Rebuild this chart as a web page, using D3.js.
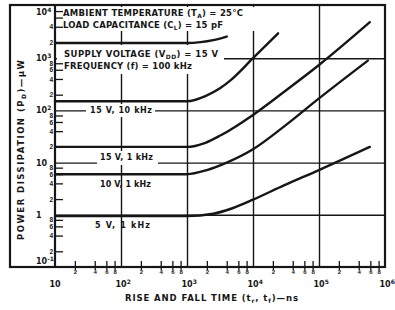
<!DOCTYPE html>
<html>
<head>
<meta charset="utf-8">
<style>
  body { margin: 0; background: #fff; }
  svg { display: block; font-family: 'DejaVu Sans', sans-serif; font-weight: bold; }
  .domain { display: none; }
  text { fill: #161616; }
</style>
</head>
<body>
<svg width="395" height="310"></svg>
<script src="https://d3js.org/d3.v7.min.js"></script>
<script>
// values (t in ns, P in microwatts)
let xDecades = [10, 1e2, 1e3, 1e4, 1e5, 1e6];
let xDecadeLabels = [["10", ""], ["10", "2"], ["10", "3"], ["10", "4"], ["10", "5"], ["10", "6"]];
let yDecades = [0.1, 1, 10, 1e2, 1e3, 1e4];
let yDecadeLabels = [["10", "-1"], ["1", ""], ["10", ""], ["10", "2"], ["10", "3"], ["10", "4"]];
let minorDigits = [2, 4, 6, 8];

let curve15v100k = [[10, 1950], [1000, 1950], [1600, 2030], [2500, 2220], [4000, 2600]];
let curve15v10k = [[10, 150], [1000, 150], [1900, 188], [3200, 268], [4600, 380], [10000, 1000], [24000, 3000]];
let curve15v1k = [[10, 20], [1000, 20], [1900, 24], [3200, 33], [10000, 82], [30000, 230], [100000, 740], [590000, 4900]];
let curve10v1k = [[10, 6], [1000, 6], [2000, 7.2], [4000, 10], [10000, 18], [30000, 50], [100000, 170], [550000, 900]];
let curve5v1k = [[10, 0.95], [1000, 0.95], [2500, 1.05], [5000, 1.35], [10000, 1.95], [30000, 3.7], [100000, 7.2], [590000, 20]];

let curves = [curve15v100k, curve15v10k, curve15v1k, curve10v1k, curve5v1k];
let curveLabels = ["15 V, 10 kHz", "15 V, 1 kHz", "10 V, 1 kHz", "5 V, 1 kHz"];

let W = 395, H = 310;
let margin = { top: 6, right: 10, bottom: 43, left: 55 };
let ink = "#161616";

let svg = d3.select("svg");

let x = d3.scaleLog().domain([10, 1e6]).range([margin.left, W - margin.right]);
let y = d3.scaleLog().domain([0.1, 1e4]).range([H - margin.bottom, margin.top]);
let y0 = H - margin.bottom;

// minor tick positions from the digits
let xMinor = [];
xDecades.slice(0, -1).forEach(d => minorDigits.forEach(m => xMinor.push(d * m)));
let yMinor = [];
yDecades.slice(0, -1).forEach(d => minorDigits.forEach(m => yMinor.push(d * m)));
let digitOf = v => String(Math.round(v / Math.pow(10, Math.floor(Math.log10(v) + 1e-9))));

// grid
svg.append("g")
    .attr("transform", `translate(0,${y0})`)
    .call(d3.axisBottom(x).tickValues(xDecades.slice(1, -1)).tickSize(-(y0 - margin.top)).tickFormat(""))
    .selectAll("line").attr("stroke", ink).attr("stroke-width", 1.4);

svg.append("g")
    .attr("transform", `translate(${margin.left},0)`)
    .call(d3.axisLeft(y).tickValues(yDecades.slice(1, -1)).tickSize(-(W - margin.right - margin.left)).tickFormat(""))
    .selectAll("line").attr("stroke", ink).attr("stroke-width", 1.4);

// white blocks behind the annotation text (they hide the grid, as in the scan)
let blanks = [[57, 7, 199, 24], [57, 45, 167, 29], [86, 104, 69, 13], [97, 151, 61, 14]];
svg.append("g").selectAll("rect")
    .data(blanks)
    .join("rect")
    .attr("x", d => d[0]).attr("y", d => d[1])
    .attr("width", d => d[2]).attr("height", d => d[3])
    .attr("fill", "#fff");

// minor ticks
let xm = svg.append("g")
    .attr("transform", `translate(0,${y0})`)
    .call(d3.axisBottom(x).tickValues(xMinor).tickSize(3).tickFormat(digitOf));
xm.selectAll("line").attr("stroke", ink).attr("stroke-width", 1.3).attr("y1", -6);
xm.selectAll("text").attr("y", 2.5).attr("dy", "0.71em").attr("font-size", "6px").attr("font-weight", "bold").attr("fill", ink);

let ym = svg.append("g")
    .attr("transform", `translate(${margin.left},0)`)
    .call(d3.axisRight(y).tickValues(yMinor).tickSize(8).tickFormat(d => d > 5000 ? "" : digitOf(d)));
ym.selectAll("line").attr("stroke", ink).attr("stroke-width", 1.3);
ym.selectAll("text").attr("x", -2).attr("text-anchor", "end").attr("font-size", "6.5px").attr("font-weight", "bold").attr("fill", ink);

// decade labels
let xl = svg.append("g").selectAll("text")
    .data(xDecades)
    .join("text")
    .attr("x", d => x(d) - 5.5)
    .attr("y", 287)
    .attr("font-size", "8px");
xl.append("tspan").text((d, i) => xDecadeLabels[i][0]);
xl.append("tspan").attr("dy", -3.5).attr("font-size", "6px").text((d, i) => xDecadeLabels[i][1]);

let yl = svg.append("g").selectAll("text")
    .data(yDecades)
    .join("text")
    .attr("x", 36)
    .attr("y", d => Math.min(Math.max(y(d), 12), 261) + 3)
    .attr("font-size", "8px");
yl.append("tspan").text((d, i) => yDecadeLabels[i][0]);
yl.append("tspan").attr("dy", -3.5).attr("font-size", "6px").text((d, i) => yDecadeLabels[i][1]);

// text with subscripts
function richText(parts, px, py, len, size, rotate) {
    let t = svg.append("text")
        .attr("x", px).attr("y", py)
        .attr("font-size", size + "px")
        .attr("textLength", len)
        .attr("lengthAdjust", "spacing");
    if (rotate) t.attr("transform", `rotate(-90,${px},${py})`).attr("text-anchor", "middle");
    let shift = 0;
    parts.forEach(p => {
        let sub = p.startsWith("_");
        let s = t.append("tspan").text(sub ? p.slice(1) : p);
        if (sub) { s.attr("dy", 2).attr("font-size", (size * 0.7) + "px"); shift = 2; }
        else if (shift) { s.attr("dy", -shift); shift = 0; }
    });
    return t;
}

richText(["AMBIENT TEMPERATURE (T", "_A", ") = 25°C"], 63, 16, 180, 8.5);
richText(["LOAD CAPACITANCE (C", "_L", ") = 15 pF"], 63, 27.5, 160, 8.5);
richText(["SUPPLY VOLTAGE (V", "_DD", ") = 15 V"], 64, 57, 154, 8.5);
richText(["FREQUENCY (f) = 100 kHz"], 64, 68.5, 128, 8.5);

richText(["POWER DISSIPATION (P", "_D", ")—µW"], 24, 150, 180, 8.5, true);
richText(["RISE AND FALL TIME (t", "_r", ", t", "_f", ")—ns"], 125, 301, 173, 8.5);

let labelPos = [[90, 113, 62], [100, 160, 53], [100, 187, 51], [95, 228, 55]];
curveLabels.forEach((s, i) => richText([s], labelPos[i][0], labelPos[i][1], labelPos[i][2], 8));

// curves
let line = d3.line()
    .x(d => x(d[0]))
    .y(d => y(d[1]))
    .curve(d3.curveMonotoneX);

svg.append("g").selectAll("path")
    .data(curves)
    .join("path")
    .attr("d", line)
    .attr("fill", "none")
    .attr("stroke", ink)
    .attr("stroke-width", 2.4)
    .attr("stroke-linecap", "round");

// frame and left axis
svg.append("rect")
    .attr("x", 10).attr("y", margin.top - 1)
    .attr("width", W - margin.right - 10).attr("height", y0 - margin.top + 1)
    .attr("fill", "none").attr("stroke", ink).attr("stroke-width", 2.2);
svg.append("line")
    .attr("x1", margin.left).attr("x2", margin.left)
    .attr("y1", margin.top - 1).attr("y2", y0)
    .attr("stroke", ink).attr("stroke-width", 2.2);
</script>
</body>
</html>
